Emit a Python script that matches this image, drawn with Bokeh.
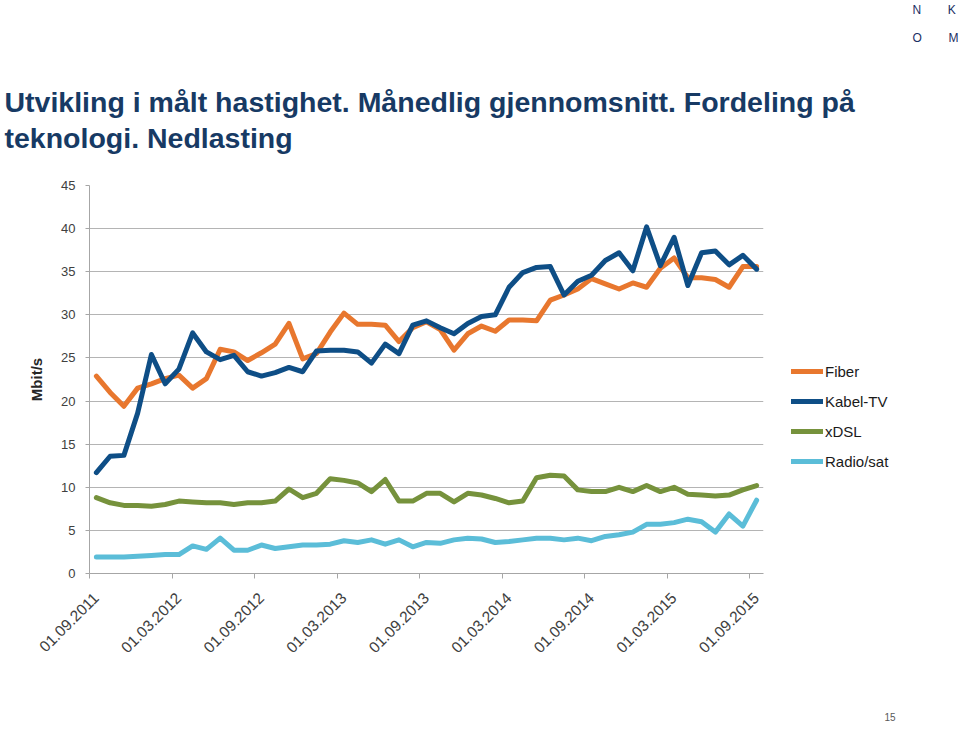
from bokeh.plotting import figure
from bokeh.models import FixedTicker, Legend, LegendItem, Title
from bokeh.embed import file_html
from bokeh.resources import INLINE
import math

# ---- data (monthly averages, Mbit/s), 01.09.2011 .. 01.09.2015 ----
tick_labels = ["01.09.2011", "01.03.2012", "01.09.2012", "01.03.2013", "01.09.2013",
               "01.03.2014", "01.09.2014", "01.03.2015", "01.09.2015"]
tick_months = [0, 6, 12, 18, 24, 30, 36, 42, 48]

fiber = [22.9, 21.0, 19.4, 21.5, 22.0, 22.6, 23.0, 21.5, 22.6, 26.0,
         25.7, 24.7, 25.6, 26.6, 29.0, 24.9, 25.5, 28.0, 30.2, 28.9,
         28.9, 28.8, 26.9, 28.5, 29.2, 28.3, 25.9, 27.8, 28.7, 28.1,
         29.4, 29.4, 29.3, 31.7, 32.3, 33.0, 34.2, 33.6, 33.0, 33.7,
         33.2, 35.4, 36.6, 34.3, 34.3, 34.1, 33.2, 35.6, 35.6]
kabel_tv = [11.7, 13.6, 13.7, 18.6, 25.4, 22.0, 23.7, 27.9, 25.7, 24.8,
            25.3, 23.4, 22.9, 23.3, 23.9, 23.4, 25.8, 25.9, 25.9, 25.7,
            24.4, 26.6, 25.5, 28.8, 29.3, 28.5, 27.8, 29.0, 29.8, 30.0,
            33.2, 34.9, 35.5, 35.6, 32.3, 33.9, 34.6, 36.3, 37.2, 35.1,
            40.2, 35.7, 39.0, 33.4, 37.2, 37.4, 35.8, 36.9, 35.3]
xdsl = [8.8, 8.2, 7.9, 7.9, 7.8, 8.0, 8.4, 8.3, 8.2, 8.2,
        8.0, 8.2, 8.2, 8.4, 9.8, 8.8, 9.3, 11.0, 10.8, 10.5,
        9.5, 10.9, 8.4, 8.4, 9.3, 9.3, 8.3, 9.3, 9.1, 8.7,
        8.2, 8.4, 11.1, 11.4, 11.3, 9.7, 9.5, 9.5, 10.0, 9.5,
        10.2, 9.5, 10.0, 9.2, 9.1, 9.0, 9.1, 9.7, 10.2]
radio_sat = [1.9, 1.9, 1.9, 2.0, 2.1, 2.2, 2.2, 3.2, 2.8, 4.1,
             2.7, 2.7, 3.3, 2.9, 3.1, 3.3, 3.3, 3.4, 3.8, 3.6,
             3.9, 3.4, 3.9, 3.1, 3.6, 3.5, 3.9, 4.1, 4.0, 3.6,
             3.7, 3.9, 4.1, 4.1, 3.9, 4.1, 3.8, 4.3, 4.5, 4.8,
             5.7, 5.7, 5.9, 6.3, 6.0, 4.8, 6.9, 5.5, 8.5]

series_names = ["Fiber", "Kabel-TV", "xDSL", "Radio/sat"]
series_values = [fiber, kabel_tv, xdsl, radio_sat]
series_colors = ["#E8772E", "#0E4E86", "#76923C", "#5BBDD8"]

title_line1 = "Utvikling i målt hastighet. Månedlig gjennomsnitt. Fordeling på"
title_line2 = "teknologi. Nedlasting"
NB = "\u00a0"
logo_top = "N" + NB * 8 + "K"
logo_bottom = "O" + NB * 8 + "M"
page_number = "15"

n = len(fiber)
x = [i + 0.5 for i in range(n)]  # category centres

p = figure(frame_width=674, frame_height=388,
           min_border_left=89, min_border_right=960 - 89 - 674,
           min_border_top=185, min_border_bottom=738 - 185 - 388,
           x_range=(0, n), y_range=(0, 45),
           output_backend="svg", toolbar_location=None,
           background_fill_color="white", border_fill_color="white")
p.outline_line_color = None

renderers = []
for name, vals, col in zip(series_names, series_values, series_colors):
    r = p.line(x, vals, line_color=col, line_width=5, line_join="round", line_cap="round")
    renderers.append((name, r))

# y axis
p.yaxis.ticker = FixedTicker(ticks=list(range(0, 46, 5)))
p.yaxis.axis_line_color = "#A6A6A6"
p.yaxis.major_tick_line_color = "#A6A6A6"
p.yaxis.major_tick_out = 4
p.yaxis.major_tick_in = 0
p.yaxis.minor_tick_line_color = None
p.yaxis.major_label_standoff = 10
p.yaxis.major_label_text_font = "Liberation Sans"
p.yaxis.major_label_text_font_size = "13px"
p.yaxis.major_label_text_color = "#404040"
p.yaxis.axis_label = "Mbit/s"
p.yaxis.axis_label_text_font = "Liberation Sans"
p.yaxis.axis_label_text_font_style = "bold"
p.yaxis.axis_label_text_font_size = "15px"
p.yaxis.axis_label_text_color = "#262626"
p.yaxis.axis_label_standoff = 13

# x axis: labels at category centres, tick marks at category boundaries
p.xaxis.ticker = FixedTicker(ticks=[m + 0.5 for m in tick_months], minor_ticks=tick_months)
p.xaxis.major_label_overrides = {m + 0.5: lab for m, lab in zip(tick_months, tick_labels)}
p.xaxis.major_label_orientation = math.pi / 4
p.xaxis.axis_line_color = "#A6A6A6"
p.xaxis.major_tick_line_color = None
p.xaxis.major_tick_out = 0
p.xaxis.major_tick_in = 0
p.xaxis.minor_tick_line_color = "#A6A6A6"
p.xaxis.minor_tick_out = 5
p.xaxis.minor_tick_in = 0
p.xaxis.major_label_standoff = 17
p.xaxis.major_label_text_font = "Liberation Sans"
p.xaxis.major_label_text_font_size = "15.5px"
p.xaxis.major_label_text_color = "#404040"

p.xgrid.grid_line_color = None
p.ygrid.grid_line_color = "#B4B4B4"
p.ygrid.grid_line_width = 1

legend = Legend(items=[LegendItem(label=nm, renderers=[r]) for nm, r in renderers],
                location=(28, 102), orientation="vertical",
                glyph_width=32, glyph_height=20, label_height=20, spacing=10,
                label_standoff=2, padding=0, margin=0,
                label_text_font="Liberation Sans", label_text_font_size="15px",
                label_text_color="#1A1A1A",
                border_line_color=None, background_fill_alpha=0)
p.add_layout(legend, "right")


def head(text, size, bold=False, color="#173A64", offset=0, standoff=0, valign="bottom"):
    return Title(text=text, align="left", offset=offset, standoff=standoff,
                 vertical_align=valign,
                 text_font="Liberation Sans", text_font_size=size,
                 text_font_style="bold" if bold else "normal", text_color=color)


def spacer(standoff):
    return Title(text=NB, text_font_size="1px", standoff=standoff, text_color="white")


# stacked above the frame (first added = closest to the frame)
p.add_layout(spacer(29), "above")
p.add_layout(head(title_line2, "28.5px", True, offset=-85), "above")
p.add_layout(head(title_line1, "28.5px", True, offset=-85, standoff=4), "above")
p.add_layout(spacer(34), "above")
p.add_layout(head(logo_bottom, "12px", color="#1B2F63", offset=823), "above")
p.add_layout(spacer(7), "above")
p.add_layout(head(logo_top, "12px", color="#1B2F63", offset=823, valign="top"), "above")

# page number below the x axis
p.add_layout(spacer(47), "below")
p.add_layout(Title(text=page_number, align="left", offset=795, standoff=0,
                   text_font="Liberation Sans", text_font_size="10px",
                   text_font_style="normal", text_color="#595959"), "below")

open("out.html", "w").write(file_html(p, INLINE))
